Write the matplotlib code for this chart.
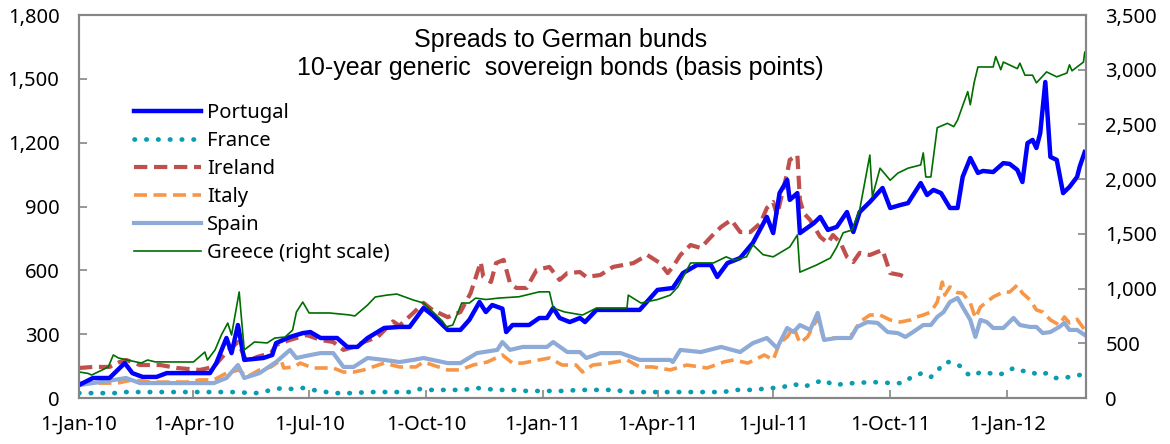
import matplotlib
matplotlib.use("Agg")
import matplotlib.pyplot as plt
import pandas as pd
from matplotlib.ticker import FuncFormatter, MultipleLocator

plt.rcParams['font.family'] = ['Noto Sans', 'DejaVu Sans']

# --- data (basis points) ---
portugal_dates = ['2010-01-01', '2010-01-12', '2010-01-25', '2010-02-06', '2010-02-12', '2010-02-20',
                  '2010-03-03', '2010-03-11', '2010-03-27', '2010-04-14', '2010-04-19', '2010-04-27',
                  '2010-05-01', '2010-05-06', '2010-05-11', '2010-05-26', '2010-06-02', '2010-06-05',
                  '2010-06-16', '2010-06-26', '2010-07-02', '2010-07-10', '2010-07-23', '2010-07-31',
                  '2010-08-08', '2010-08-16', '2010-08-29', '2010-09-10', '2010-09-18', '2010-09-29',
                  '2010-10-06', '2010-10-18', '2010-10-28', '2010-11-04', '2010-11-12', '2010-11-17',
                  '2010-11-22', '2010-11-30', '2010-12-03', '2010-12-08', '2010-12-21', '2010-12-29',
                  '2011-01-04', '2011-01-09', '2011-01-14', '2011-01-22', '2011-01-30', '2011-02-03',
                  '2011-02-12', '2011-03-18', '2011-04-01', '2011-04-13', '2011-04-21', '2011-05-02',
                  '2011-05-13', '2011-05-18', '2011-05-26', '2011-06-05', '2011-06-15', '2011-06-26',
                  '2011-07-01', '2011-07-06', '2011-07-12', '2011-07-14', '2011-07-20', '2011-07-22',
                  '2011-08-02', '2011-08-07', '2011-08-13', '2011-08-20', '2011-08-28', '2011-09-02',
                  '2011-09-07', '2011-09-15', '2011-09-25', '2011-10-01', '2011-10-09', '2011-10-15',
                  '2011-10-25', '2011-10-30', '2011-11-04', '2011-11-10', '2011-11-17', '2011-11-23',
                  '2011-11-27', '2011-12-03', '2011-12-09', '2011-12-13', '2011-12-21', '2011-12-29',
                  '2012-01-03', '2012-01-09', '2012-01-13', '2012-01-17', '2012-01-21', '2012-01-24',
                  '2012-01-27', '2012-01-31', '2012-02-04', '2012-02-09', '2012-02-14', '2012-02-19',
                  '2012-02-25', '2012-02-27', '2012-03-02']
portugal = [61, 94, 94, 164, 117, 99,
            99, 117, 117, 117, 164, 282,
            211, 343, 179, 188, 202, 258,
            287, 305, 310, 282, 282, 240,
            240, 282, 329, 334, 334, 423,
            390, 320, 320, 367, 451, 404,
            437, 420, 310, 343, 343, 376,
            376, 423, 376, 357, 376, 357,
            414, 414, 508, 517, 587, 625,
            625, 569, 634, 658, 729, 851,
            775, 963, 1025, 931, 963, 775,
            822, 851, 790, 804, 874, 780,
            874, 921, 987, 893, 907, 916,
            1010, 954, 978, 963, 893, 893,
            1039, 1128, 1058, 1067, 1062, 1104,
            1100, 1072, 1015, 1198, 1213, 1175,
            1245, 1485, 1133, 1119, 963, 992,
            1039, 1086, 1156]

france_dates = ['2010-01-01', '2010-01-31', '2010-02-05', '2010-03-11', '2010-05-01', '2010-05-20',
                '2010-06-02', '2010-06-10', '2010-06-18', '2010-06-26', '2010-07-04', '2010-07-20',
                '2010-08-05', '2010-08-16', '2010-09-21', '2010-09-26', '2010-10-04', '2010-10-30',
                '2010-11-10', '2010-11-26', '2010-12-08', '2010-12-19', '2011-01-16', '2011-01-30',
                '2011-02-25', '2011-03-11', '2011-04-19', '2011-05-23', '2011-05-31', '2011-06-18',
                '2011-06-26', '2011-07-04', '2011-07-09', '2011-07-17', '2011-07-25', '2011-08-02',
                '2011-08-10', '2011-08-17', '2011-09-02', '2011-09-17', '2011-10-03', '2011-10-11',
                '2011-10-18', '2011-10-26', '2011-11-02', '2011-11-07', '2011-11-11', '2011-11-16',
                '2011-11-20', '2011-11-25', '2011-12-01', '2011-12-05', '2011-12-11', '2011-12-18',
                '2011-12-24', '2011-12-30', '2012-01-06', '2012-01-13', '2012-01-19', '2012-01-25',
                '2012-02-01', '2012-02-08', '2012-02-14', '2012-02-19', '2012-02-27', '2012-03-02']
france = [23, 23, 28, 28, 28, 23,
          38, 47, 42, 47, 38, 23,
          23, 28, 28, 42, 38, 38,
          47, 38, 38, 33, 33, 38,
          38, 28, 28, 28, 38, 38,
          47, 47, 52, 66, 52, 70,
          85, 61, 70, 75, 70, 70,
          99, 117, 99, 122, 160, 169,
          164, 150, 113, 103, 122, 117,
          108, 117, 141, 127, 127, 108,
          117, 94, 94, 99, 108, 115]

ireland_dates = ['2010-01-01', '2010-01-12', '2010-01-25', '2010-02-02', '2010-02-07', '2010-02-18',
                 '2010-03-06', '2010-03-19', '2010-04-06', '2010-04-17', '2010-04-27', '2010-05-06',
                 '2010-05-13', '2010-05-21', '2010-06-01', '2010-06-05', '2010-06-16', '2010-06-29',
                 '2010-07-10', '2010-07-20', '2010-07-28', '2010-08-05', '2010-08-13', '2010-08-24',
                 '2010-09-05', '2010-09-10', '2010-09-21', '2010-09-29', '2010-10-06', '2010-10-18',
                 '2010-10-28', '2010-11-05', '2010-11-13', '2010-11-15', '2010-11-21', '2010-11-25',
                 '2010-12-01', '2010-12-06', '2010-12-11', '2010-12-19', '2010-12-27', '2011-01-06',
                 '2011-01-14', '2011-01-20', '2011-01-30', '2011-02-04', '2011-02-15', '2011-02-25',
                 '2011-03-13', '2011-03-24', '2011-04-03', '2011-04-09', '2011-04-13', '2011-04-19',
                 '2011-04-27', '2011-05-05', '2011-05-13', '2011-05-21', '2011-05-29', '2011-06-05',
                 '2011-06-13', '2011-06-21', '2011-06-26', '2011-07-01', '2011-07-04', '2011-07-12',
                 '2011-07-14', '2011-07-20', '2011-07-22', '2011-07-25', '2011-07-30', '2011-08-07',
                 '2011-08-13', '2011-08-17', '2011-08-23', '2011-08-28', '2011-09-02', '2011-09-07',
                 '2011-09-15', '2011-09-25', '2011-10-01', '2011-10-09', '2011-10-12']
ireland = [141, 146, 146, 169, 179, 155,
           155, 141, 132, 146, 216, 263,
           169, 193, 211, 249, 273, 296,
           273, 263, 226, 240, 263, 287,
           360, 340, 400, 447, 414, 380,
           404, 493, 639, 569, 545, 634,
           649, 540, 517, 517, 602, 616,
           555, 587, 592, 569, 578, 616,
           634, 672, 634, 587, 616, 672,
           719, 705, 757, 804, 837, 780,
           780, 822, 893, 921, 860, 1058,
           1119, 1142, 931, 869, 837, 757,
           729, 766, 729, 663, 639, 682,
           672, 696, 587, 578, 569]

italy_dates = ['2010-01-01', '2010-01-31', '2010-02-12', '2010-02-26', '2010-03-27', '2010-04-06',
               '2010-04-17', '2010-04-27', '2010-05-07', '2010-05-13', '2010-05-23', '2010-06-01',
               '2010-06-09', '2010-06-11', '2010-06-19', '2010-06-24', '2010-07-04', '2010-07-20',
               '2010-07-28', '2010-08-05', '2010-08-13', '2010-08-29', '2010-09-10', '2010-09-23',
               '2010-09-29', '2010-10-18', '2010-10-28', '2010-11-07', '2010-11-18', '2010-11-30',
               '2010-12-08', '2010-12-16', '2010-12-29', '2011-01-06', '2011-01-16', '2011-01-27',
               '2011-02-01', '2011-02-09', '2011-02-22', '2011-03-08', '2011-03-18', '2011-03-28',
               '2011-04-11', '2011-04-24', '2011-05-10', '2011-05-23', '2011-05-31', '2011-06-11',
               '2011-06-24', '2011-07-01', '2011-07-06', '2011-07-12', '2011-07-17', '2011-07-22',
               '2011-07-28', '2011-08-05', '2011-08-10', '2011-08-15', '2011-08-28', '2011-09-02',
               '2011-09-07', '2011-09-15', '2011-09-23', '2011-10-01', '2011-10-09', '2011-10-17',
               '2011-10-22', '2011-10-27', '2011-11-02', '2011-11-07', '2011-11-11', '2011-11-13',
               '2011-11-17', '2011-11-23', '2011-11-27', '2011-12-03', '2011-12-07', '2011-12-11',
               '2011-12-16', '2011-12-21', '2011-12-29', '2012-01-03', '2012-01-09', '2012-01-13',
               '2012-01-19', '2012-01-24', '2012-01-29', '2012-02-04', '2012-02-11', '2012-02-15',
               '2012-02-19', '2012-02-25', '2012-03-02']
italy = [70, 70, 85, 75, 75, 85,
         85, 117, 132, 99, 132, 146,
         179, 141, 146, 164, 141, 141,
         122, 122, 132, 164, 146, 146,
         169, 132, 132, 155, 169, 202,
         164, 164, 179, 188, 155, 155,
         122, 155, 164, 179, 146, 146,
         132, 155, 141, 169, 179, 164,
         202, 179, 258, 287, 334, 258,
         287, 376, 273, 282, 282, 305,
         357, 390, 390, 367, 357, 367,
         381, 390, 404, 451, 545, 484,
         522, 495, 493, 447, 376, 428,
         451, 475, 498, 498, 531, 493,
         461, 414, 404, 367, 343, 381,
         353, 370, 320]

spain_dates = ['2010-01-01', '2010-01-18', '2010-02-07', '2010-02-18', '2010-03-27', '2010-04-17',
               '2010-04-27', '2010-05-06', '2010-05-11', '2010-05-23', '2010-06-05', '2010-06-16',
               '2010-06-21', '2010-07-02', '2010-07-10', '2010-07-20', '2010-07-28', '2010-08-05',
               '2010-08-16', '2010-08-29', '2010-09-10', '2010-09-21', '2010-09-29', '2010-10-18',
               '2010-10-28', '2010-11-10', '2010-11-26', '2010-11-30', '2010-12-06', '2010-12-16',
               '2011-01-04', '2011-01-09', '2011-01-20', '2011-01-30', '2011-02-04', '2011-02-15',
               '2011-03-03', '2011-03-18', '2011-04-11', '2011-04-13', '2011-04-19', '2011-05-05',
               '2011-05-21', '2011-06-05', '2011-06-15', '2011-06-26', '2011-07-04', '2011-07-12',
               '2011-07-17', '2011-07-22', '2011-07-30', '2011-08-05', '2011-08-10', '2011-08-20',
               '2011-08-31', '2011-09-05', '2011-09-13', '2011-09-21', '2011-09-29', '2011-10-07',
               '2011-10-13', '2011-10-19', '2011-10-27', '2011-11-02', '2011-11-07', '2011-11-12',
               '2011-11-17', '2011-11-23', '2011-11-27', '2011-12-03', '2011-12-07', '2011-12-11',
               '2011-12-16', '2011-12-21', '2011-12-29', '2012-01-06', '2012-01-11', '2012-01-19',
               '2012-01-24', '2012-01-29', '2012-02-04', '2012-02-11', '2012-02-15', '2012-02-19',
               '2012-02-25', '2012-03-02']
spain = [61, 75, 94, 70, 70, 70,
         94, 155, 94, 117, 169, 226,
         188, 202, 211, 211, 146, 146,
         188, 179, 169, 179, 188, 164,
         164, 211, 226, 263, 226, 240,
         240, 263, 216, 216, 188, 211,
         211, 179, 179, 169, 226, 216,
         240, 216, 258, 282, 235, 329,
         310, 343, 320, 400, 273, 282,
         282, 334, 357, 353, 310, 305,
         287, 310, 343, 343, 381, 404,
         451, 470, 428, 367, 287, 367,
         357, 329, 329, 376, 343, 334,
         334, 305, 310, 334, 353, 320,
         320, 296]

greece_dates = ['2010-01-01', '2010-01-08', '2010-01-11', '2010-01-24', '2010-01-28', '2010-02-01',
                '2010-02-08', '2010-02-19', '2010-02-24', '2010-03-02', '2010-03-24', '2010-04-01',
                '2010-04-10', '2010-04-12', '2010-04-18', '2010-04-23', '2010-04-28', '2010-05-01',
                '2010-05-07', '2010-05-09', '2010-05-11', '2010-05-19', '2010-05-29', '2010-06-04',
                '2010-06-12', '2010-06-18', '2010-06-21', '2010-06-26', '2010-07-01', '2010-07-17',
                '2010-08-01', '2010-08-06', '2010-08-16', '2010-08-22', '2010-08-31', '2010-09-08',
                '2010-09-21', '2010-09-29', '2010-10-09', '2010-10-14', '2010-10-17', '2010-10-22',
                '2010-10-29', '2010-11-04', '2010-11-09', '2010-11-17', '2010-11-27', '2010-12-13',
                '2010-12-29', '2011-01-06', '2011-01-09', '2011-01-18', '2011-02-01', '2011-02-12',
                '2011-03-08', '2011-03-09', '2011-03-19', '2011-04-01', '2011-04-11', '2011-04-17',
                '2011-04-27', '2011-05-15', '2011-05-25', '2011-05-31', '2011-06-10', '2011-06-15',
                '2011-06-23', '2011-07-01', '2011-07-14', '2011-07-20', '2011-07-22', '2011-08-04',
                '2011-08-15', '2011-08-20', '2011-08-25', '2011-09-01', '2011-09-07', '2011-09-15',
                '2011-09-17', '2011-09-23', '2011-10-01', '2011-10-07', '2011-10-15', '2011-10-25',
                '2011-10-27', '2011-10-29', '2011-11-02', '2011-11-07', '2011-11-15', '2011-11-20',
                '2011-11-23', '2011-12-01', '2011-12-03', '2011-12-06', '2011-12-09', '2011-12-21',
                '2011-12-23', '2011-12-27', '2011-12-29', '2012-01-09', '2012-01-11', '2012-01-15',
                '2012-01-21', '2012-01-24', '2012-02-01', '2012-02-09', '2012-02-17', '2012-02-19',
                '2012-02-21', '2012-03-01', '2012-03-02']
greece = [238, 225, 210, 283, 393, 366,
          347, 320, 347, 330, 329, 329,
          420, 347, 439, 576, 685, 576,
          969, 700, 439, 512, 503, 548,
          557, 620, 786, 877, 777, 777,
          760, 750, 850, 923, 940, 950,
          895, 868, 758, 700, 650, 667,
          868, 868, 913, 900, 913, 925,
          970, 970, 822, 786, 758, 822,
          822, 940, 868, 900, 940, 1015,
          1234, 1234, 1290, 1260, 1290, 1400,
          1310, 1290, 1380, 1490, 1150, 1215,
          1280, 1380, 1510, 1535, 1720, 2220,
          1840, 2100, 1990, 2055, 2100, 2130,
          2240, 2020, 2020, 2470, 2510, 2480,
          2540, 2800, 2680, 2880, 3025, 3025,
          3120, 3000, 3070, 3010, 3060, 2950,
          2950, 2880, 2980, 2935, 2970, 3045,
          2990, 3070, 3160]

tick_dates = ['2010-01-01', '2010-04-01', '2010-07-01', '2010-10-01', '2011-01-01',
              '2011-04-01', '2011-07-01', '2011-10-01', '2012-01-01']
tick_labels = ['1-Jan-10', '1-Apr-10', '1-Jul-10', '1-Oct-10', '1-Jan-11',
               '1-Apr-11', '1-Jul-11', '1-Oct-11', '1-Jan-12']

grey = '#868686'
fig = plt.figure(figsize=(11.7, 4.44), dpi=100)
ax = fig.add_axes([0.0675, 0.1036, 0.8607, 0.8626])
ax2 = ax.twinx()

d = pd.to_datetime
ax.plot(d(portugal_dates), portugal, color='#0000FF', lw=3.2, label='Portugal', zorder=5)
ax.plot(d(france_dates), france, color='#0A9DB0', lw=3.4, linestyle=(0, (0.1, 2.4)),
        dash_capstyle='round', label='France', zorder=3)
ax.plot(d(ireland_dates), ireland, color='#C0504D', lw=3.0, linestyle=(0, (3.2, 1.6)),
        label='Ireland', zorder=4)
ax.plot(d(italy_dates), italy, color='#F79646', lw=2.6, linestyle=(0, (3.6, 1.8)),
        label='Italy', zorder=3)
ax.plot(d(spain_dates), spain, color='#8EAAD6', lw=3.0, label='Spain', zorder=3)
ax2.plot(d(greece_dates), greece, color='#006E00', lw=1.2, label='Greece (right scale)')

ax.set_xlim(d('2010-01-01'), d('2012-03-03'))
ax.set_ylim(0, 1800)
ax2.set_ylim(0, 3500)
ax.yaxis.set_major_locator(MultipleLocator(300))
ax2.yaxis.set_major_locator(MultipleLocator(500))
fmt = FuncFormatter(lambda v, p: f'{v:,.0f}')
ax.yaxis.set_major_formatter(fmt)
ax2.yaxis.set_major_formatter(fmt)
ax.set_xticks(d(tick_dates))
ax.set_xticklabels(tick_labels)

for a in (ax, ax2):
    for s in a.spines.values():
        s.set_color(grey)
        s.set_linewidth(1.5)
    a.tick_params(direction='in', length=6, width=1.2, color=grey, labelsize=14.5, pad=14)
ax.tick_params(axis='x', pad=12)

ax.text(0.478, 0.898, 'Spreads to German bunds\n10-year generic  sovereign bonds (basis points)',
        transform=ax.transAxes, ha='center', va='center', fontsize=18,
        family='Liberation Sans', linespacing=1.2)

h1, l1 = ax.get_legend_handles_labels()
h2, l2 = ax2.get_legend_handles_labels()
ax.legend(h1 + h2, l1 + l2, loc='upper left', bbox_to_anchor=(0.055, 0.77), frameon=False,
          fontsize=14.5, handlelength=3.3, handletextpad=0.3, labelspacing=0.4,
          borderpad=0, borderaxespad=0)

fig.savefig('out.png', dpi=100)
